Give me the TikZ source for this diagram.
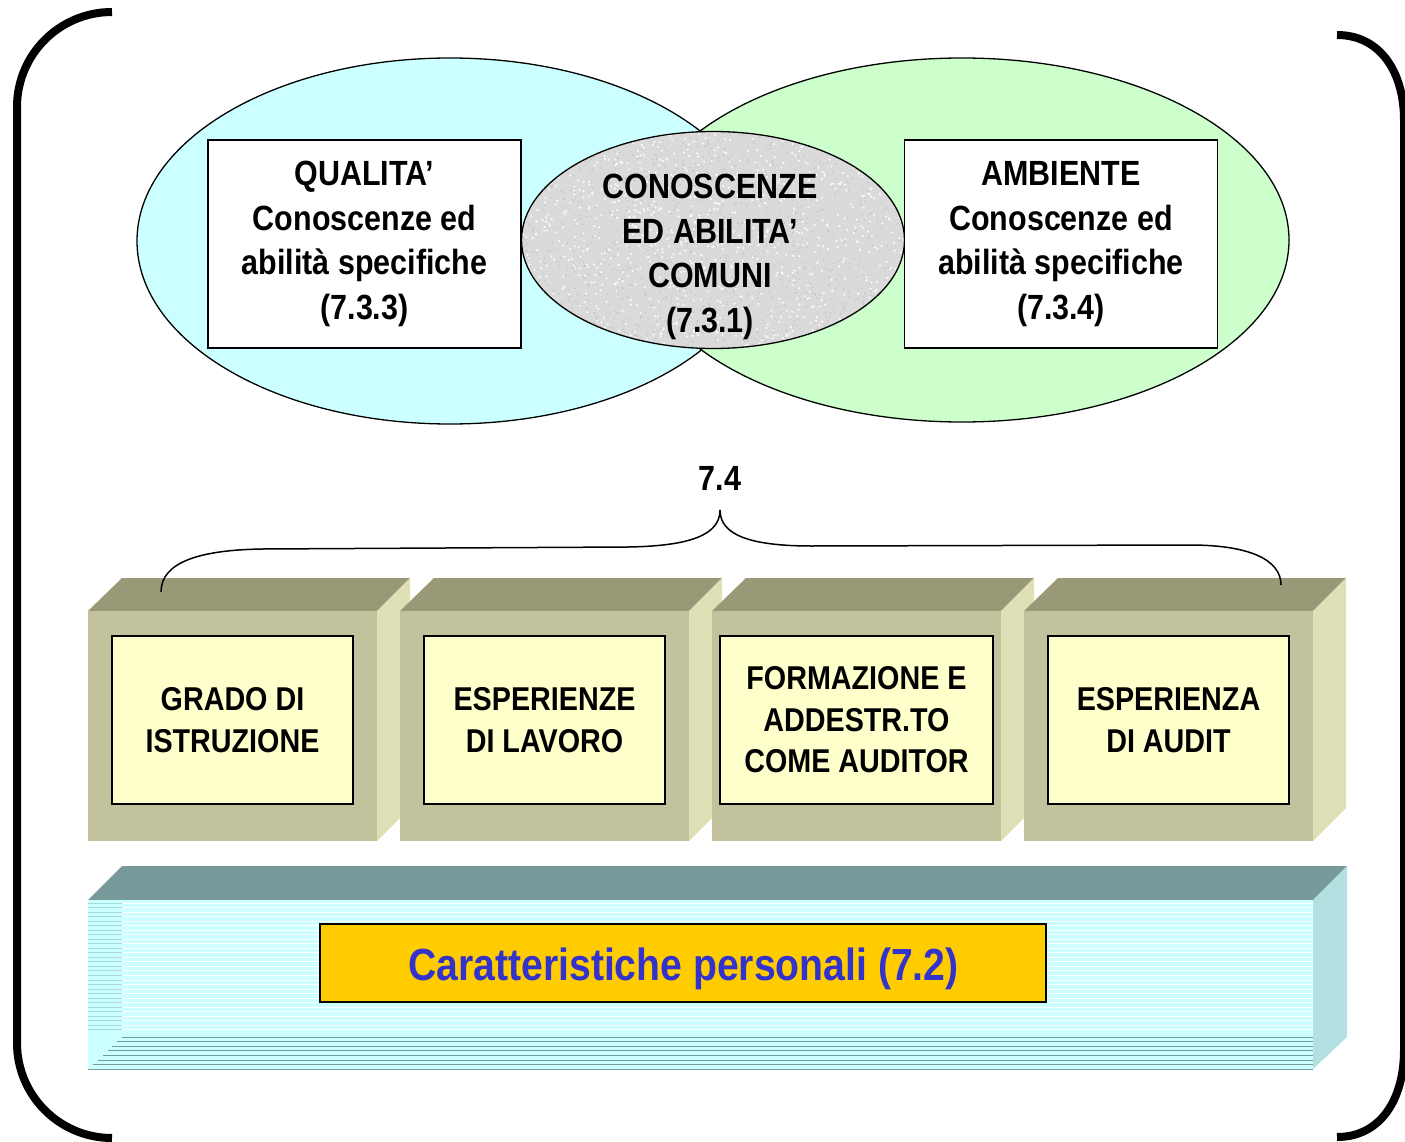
\documentclass[tikz,border=0pt]{standalone}
\usepackage{fontspec}
\setmainfont{Liberation Sans}[FakeStretch=0.87]
\usetikzlibrary{shapes.geometric}
\definecolor{cyanE}{HTML}{CCFFFF}
\definecolor{greenE}{HTML}{CCFFCC}
\definecolor{grayE}{HTML}{DADADA}
\definecolor{cubeTop}{HTML}{999977}
\definecolor{cubeFront}{HTML}{C2C29C}
\definecolor{cubeSide}{HTML}{E0E0B6}
\definecolor{innerY}{HTML}{FFFFCC}
\definecolor{slabTop}{HTML}{779999}
\definecolor{slabSide}{HTML}{B3E0E0}
\definecolor{slabFront}{HTML}{CCFFFF}
\definecolor{slabLeft}{HTML}{A8DCDC}
\definecolor{gold}{HTML}{FFCC00}
\definecolor{blueT}{HTML}{3333CC}
\tikzset{
  bigfont/.style={font=\bfseries\fontsize{35}{44.7}\selectfont},
  tbox/.style={draw, line width=1.6, fill=white, minimum width=313, minimum height=208,
    inner sep=0, align=center, bigfont},
  ibox/.style={draw, line width=1.8, fill=innerY, minimum height=168,
    inner sep=0, align=center, font=\bfseries\fontsize{33}{41.5}\selectfont},
  venn/.style={ellipse, draw, line width=1.3, inner sep=0},
  bracket/.style={line width=8, black},
  bracepath/.style={line width=1.5, black},
}
\newcommand\drawcube[1]{%
  \fill[cubeTop] (#1,611) -- (#1+34,578) -- (#1+322,578) -- (#1+289,611) -- cycle;
  \fill[cubeSide] (#1+289,611) -- (#1+322,578) -- (#1+322,808) -- (#1+289,841) -- cycle;
  \fill[cubeFront] (#1,611) rectangle (#1+289,841);
}
\begin{document}
\begin{tikzpicture}[x=1pt,y=-1pt]
\useasboundingbox (0,0) rectangle (1405,1142);
% corner brackets
\draw[bracket, rounded corners=95] (112,12) -- (17,12) -- (17,1138) -- (112,1138);
\draw[bracket] (1337,35) .. controls (1380,35) and (1404,72) .. (1404,120) -- (1404,1050)
  .. controls (1404,1100) and (1380,1137) .. (1337,1137);
% venn ellipses
\node[venn, fill=cyanE, minimum width=626, minimum height=366] (qe) at (450,241) {};
\node[venn, fill=greenE, minimum width=654, minimum height=364] (ae) at (962,240) {};
\fill[grayE] (713,240) ellipse [x radius=191.5, y radius=108.5];
\begin{scope}
  \clip (713,240) ellipse [x radius=191.5, y radius=108.5];
  \pgfmathsetseed{7}
  \foreach \i in {1,...,1300}{%
    \pgfmathsetmacro\xx{522+383*rnd}\pgfmathsetmacro\yy{131+218*rnd}%
    \fill[gray!45] (\xx,\yy) circle (0.9);}
  \foreach \i in {1,...,1000}{%
    \pgfmathsetmacro\xx{522+383*rnd}\pgfmathsetmacro\yy{131+218*rnd}%
    \fill[white] (\xx,\yy) circle (1.1);}
\end{scope}
\node[venn, minimum width=383, minimum height=217] (ce) at (713,240) {};
\node[bigfont, align=center] (ctxt) at (710,257) {CONOSCENZE\\ED ABILITA’\\COMUNI\\(7.3.1)};
% specific boxes
\node[tbox] (qbox) at (364.5,244) {QUALITA’\\Conoscenze ed\\abilità specifiche\\(7.3.3)};
\node[tbox] (abox) at (1061,244) {AMBIENTE\\Conoscenze ed\\abilità specifiche\\(7.3.4)};
% label 7.4
\node[bigfont] (lab) at (720,478) {7.4};
% cubes
\drawcube{88}
\drawcube{400}
\drawcube{712}
\drawcube{1024}
\node[ibox, minimum width=241] (c1) at (232.5,720) {GRADO DI\\ISTRUZIONE};
\node[ibox, minimum width=241] (c2) at (544.5,720) {ESPERIENZE\\DI LAVORO};
\node[ibox, minimum width=273] (c3) at (856.5,720) {FORMAZIONE E\\ADDESTR.TO\\COME AUDITOR};
\node[ibox, minimum width=241] (c4) at (1168.5,720) {ESPERIENZA\\DI AUDIT};
% brace
\coordinate (bl) at (161,592);
\coordinate (bt) at (720,510);
\coordinate (br) at (1281,585);
\draw[bracepath] (bl) .. controls (161,562) and (200,550) .. (262,549) -- (628,547)
  .. controls (690,546) and (720,535) .. (bt);
\draw[bracepath] (bt) .. controls (720,535) and (750,546) .. (812,546) -- (1190,545)
  .. controls (1250,545) and (1281,560) .. (br);
% slab
\fill[slabTop] (88,900) -- (122,866) -- (1347,866) -- (1313,900) -- cycle;
\fill[slabSide] (1313,900) -- (1347,866) -- (1347,1037) -- (1313,1069) -- cycle;
\fill[slabFront] (88,900) rectangle (1313,1069);
\foreach \k in {0,...,28}{%
  \draw[white, line width=1] (122,903+4.53*\k) -- (1313,903+4.53*\k);
  \draw[slabLeft, line width=1] (88,903+4.53*\k) -- (122,903+4.53*\k);}
\foreach \k in {0,...,7}{%
  \draw[slabTop, line width=1] (122-4.8*\k,1037+4.6*\k) -- (1313,1037+4.6*\k);}
\node[draw, line width=2, fill=gold, minimum width=726, minimum height=78, inner sep=0] (pbox) at (683,963) {};
\node[font=\bfseries\fontsize{45}{50}\selectfont, text=blueT] (ptxt) at (683.5,969) {Caratteristiche personali (7.2)};
\end{tikzpicture}
\end{document}
